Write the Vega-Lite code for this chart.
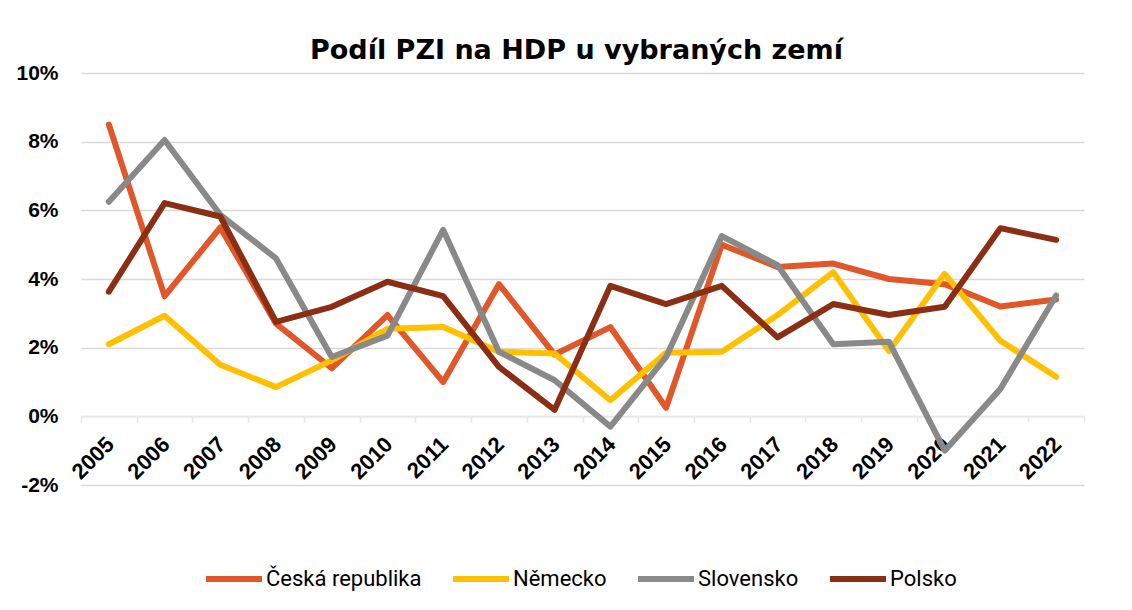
{
  "$schema": "https://vega.github.io/schema/vega-lite/v6.json",
  "width": 1003,
  "height": 412,
  "autosize": {"type": "none"},
  "padding": {"left": 81, "top": 73, "right": 48, "bottom": 125},
  "background": "white",
  "title": {"text": "Podíl PZI na HDP u vybraných zemí", "font": "DejaVu Sans", "fontSize": 27, "fontWeight": "bold", "color": "#000000", "anchor": "middle", "offset": -3, "dx": -6},
  "datasets": {
    "pzi": [
      {"rok": "2005", "zeme": "Česká republika", "hodnota": 8.5},
      {"rok": "2006", "zeme": "Česká republika", "hodnota": 3.5},
      {"rok": "2007", "zeme": "Česká republika", "hodnota": 5.5},
      {"rok": "2008", "zeme": "Česká republika", "hodnota": 2.7},
      {"rok": "2009", "zeme": "Česká republika", "hodnota": 1.4},
      {"rok": "2010", "zeme": "Česká republika", "hodnota": 2.95},
      {"rok": "2011", "zeme": "Česká republika", "hodnota": 1.0},
      {"rok": "2012", "zeme": "Česká republika", "hodnota": 3.85},
      {"rok": "2013", "zeme": "Česká republika", "hodnota": 1.8},
      {"rok": "2014", "zeme": "Česká republika", "hodnota": 2.6},
      {"rok": "2015", "zeme": "Česká republika", "hodnota": 0.25},
      {"rok": "2016", "zeme": "Česká republika", "hodnota": 5.0},
      {"rok": "2017", "zeme": "Česká republika", "hodnota": 4.35},
      {"rok": "2018", "zeme": "Česká republika", "hodnota": 4.45},
      {"rok": "2019", "zeme": "Česká republika", "hodnota": 4.0},
      {"rok": "2020", "zeme": "Česká republika", "hodnota": 3.85},
      {"rok": "2021", "zeme": "Česká republika", "hodnota": 3.2},
      {"rok": "2022", "zeme": "Česká republika", "hodnota": 3.4},
      {"rok": "2005", "zeme": "Německo", "hodnota": 2.1},
      {"rok": "2006", "zeme": "Německo", "hodnota": 2.93},
      {"rok": "2007", "zeme": "Německo", "hodnota": 1.5},
      {"rok": "2008", "zeme": "Německo", "hodnota": 0.85},
      {"rok": "2009", "zeme": "Německo", "hodnota": 1.63},
      {"rok": "2010", "zeme": "Německo", "hodnota": 2.55},
      {"rok": "2011", "zeme": "Německo", "hodnota": 2.6},
      {"rok": "2012", "zeme": "Německo", "hodnota": 1.88},
      {"rok": "2013", "zeme": "Německo", "hodnota": 1.83},
      {"rok": "2014", "zeme": "Německo", "hodnota": 0.47},
      {"rok": "2015", "zeme": "Německo", "hodnota": 1.85},
      {"rok": "2016", "zeme": "Německo", "hodnota": 1.88},
      {"rok": "2017", "zeme": "Německo", "hodnota": 2.95},
      {"rok": "2018", "zeme": "Německo", "hodnota": 4.2},
      {"rok": "2019", "zeme": "Německo", "hodnota": 1.9},
      {"rok": "2020", "zeme": "Německo", "hodnota": 4.15},
      {"rok": "2021", "zeme": "Německo", "hodnota": 2.2},
      {"rok": "2022", "zeme": "Německo", "hodnota": 1.15},
      {"rok": "2005", "zeme": "Slovensko", "hodnota": 6.25},
      {"rok": "2006", "zeme": "Slovensko", "hodnota": 8.05},
      {"rok": "2007", "zeme": "Slovensko", "hodnota": 5.87},
      {"rok": "2008", "zeme": "Slovensko", "hodnota": 4.6},
      {"rok": "2009", "zeme": "Slovensko", "hodnota": 1.73},
      {"rok": "2010", "zeme": "Slovensko", "hodnota": 2.35},
      {"rok": "2011", "zeme": "Slovensko", "hodnota": 5.43},
      {"rok": "2012", "zeme": "Slovensko", "hodnota": 1.88},
      {"rok": "2013", "zeme": "Slovensko", "hodnota": 1.05},
      {"rok": "2014", "zeme": "Slovensko", "hodnota": -0.3},
      {"rok": "2015", "zeme": "Slovensko", "hodnota": 1.73},
      {"rok": "2016", "zeme": "Slovensko", "hodnota": 5.25},
      {"rok": "2017", "zeme": "Slovensko", "hodnota": 4.4},
      {"rok": "2018", "zeme": "Slovensko", "hodnota": 2.1},
      {"rok": "2019", "zeme": "Slovensko", "hodnota": 2.17},
      {"rok": "2020", "zeme": "Slovensko", "hodnota": -1.0},
      {"rok": "2021", "zeme": "Slovensko", "hodnota": 0.8},
      {"rok": "2022", "zeme": "Slovensko", "hodnota": 3.52},
      {"rok": "2005", "zeme": "Polsko", "hodnota": 3.63},
      {"rok": "2006", "zeme": "Polsko", "hodnota": 6.21},
      {"rok": "2007", "zeme": "Polsko", "hodnota": 5.82},
      {"rok": "2008", "zeme": "Polsko", "hodnota": 2.75},
      {"rok": "2009", "zeme": "Polsko", "hodnota": 3.19},
      {"rok": "2010", "zeme": "Polsko", "hodnota": 3.92},
      {"rok": "2011", "zeme": "Polsko", "hodnota": 3.5},
      {"rok": "2012", "zeme": "Polsko", "hodnota": 1.44},
      {"rok": "2013", "zeme": "Polsko", "hodnota": 0.19},
      {"rok": "2014", "zeme": "Polsko", "hodnota": 3.8},
      {"rok": "2015", "zeme": "Polsko", "hodnota": 3.27},
      {"rok": "2016", "zeme": "Polsko", "hodnota": 3.8},
      {"rok": "2017", "zeme": "Polsko", "hodnota": 2.3},
      {"rok": "2018", "zeme": "Polsko", "hodnota": 3.27},
      {"rok": "2019", "zeme": "Polsko", "hodnota": 2.95},
      {"rok": "2020", "zeme": "Polsko", "hodnota": 3.19},
      {"rok": "2021", "zeme": "Polsko", "hodnota": 5.48},
      {"rok": "2022", "zeme": "Polsko", "hodnota": 5.14}
    ]
  },
  "data": {"name": "pzi"},
  "mark": {"type": "line", "strokeWidth": 6, "strokeJoin": "round", "strokeCap": "round"},
  "encoding": {
    "x": {
      "field": "rok",
      "type": "ordinal",
      "bandPosition": 0.5,
      "scale": {"type": "band", "paddingInner": 0, "paddingOuter": 0},
      "axis": {
        "title": null,
        "orient": "bottom",
        "offset": -68.7,
        "grid": false,
        "domainColor": "#e8e8e8",
        "domainWidth": 1.5,
        "tickColor": "#e8e8e8",
        "tickWidth": 1.5,
        "tickSize": 6,
        "tickBand": "extent",
        "labelAngle": -45,
        "labelFont": "Liberation Sans",
        "labelFontWeight": "bold",
        "labelFontSize": 22,
        "labelColor": "#000000",
        "labelPadding": 11,
        "labelOffset": -6
      }
    },
    "y": {
      "field": "hodnota",
      "type": "quantitative",
      "scale": {"domain": [-2, 10], "nice": false, "zero": false},
      "axis": {
        "title": null,
        "values": [-2, 0, 2, 4, 6, 8, 10],
        "grid": true,
        "gridColor": "#d9d9d9",
        "gridWidth": 1.3,
        "domain": false,
        "ticks": false,
        "labelPadding": 23,
        "labelFont": "Liberation Sans",
        "labelFontWeight": "bold",
        "labelFontSize": 21,
        "labelColor": "#000000",
        "labelExpr": "datum.value + '%'"
      }
    },
    "color": {
      "field": "zeme",
      "type": "nominal",
      "sort": ["Česká republika", "Německo", "Slovensko", "Polsko"],
      "scale": {
        "domain": ["Česká republika", "Německo", "Slovensko", "Polsko"],
        "range": ["#E0572A", "#FFC000", "#898989", "#8A2F14"]
      },
      "legend": {
        "title": null,
        "orient": "none",
        "legendX": 122,
        "legendY": 475,
        "direction": "horizontal",
        "columns": 4,
        "symbolType": "stroke",
        "symbolSize": 3136,
        "symbolStrokeWidth": 6,
        "labelFont": "Roboto",
        "labelFontSize": 22,
        "labelColor": "#000000",
        "labelOffset": 1,
        "labelLimit": 300,
        "columnPadding": 19
      }
    }
  },
  "config": {"view": {"stroke": null}}
}
